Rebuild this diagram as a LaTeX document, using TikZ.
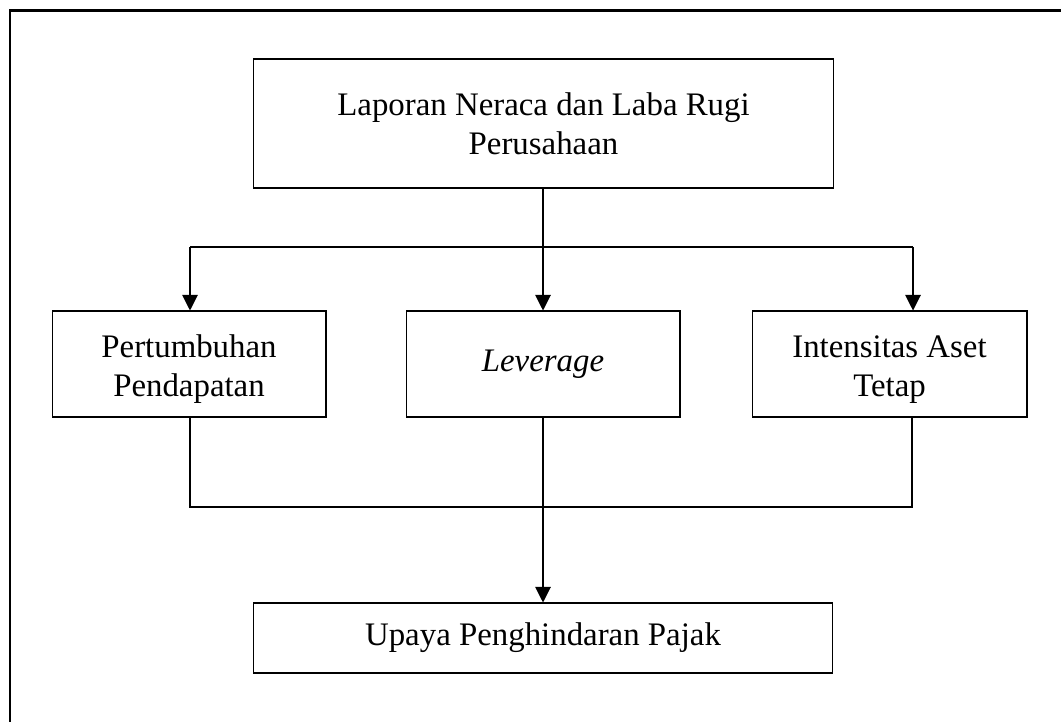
\documentclass[tikz,border=0pt]{standalone}
\usepackage{fontspec}
\setmainfont{Liberation Serif}
\usetikzlibrary{arrows.meta}

\tikzset{
  kotak/.style={draw, line width=0.6pt, align=center, inner sep=0pt,
    font=\fontsize{18.7}{22.1}\selectfont},
  panah/.style={line width=0.6pt, -{Triangle[length=0.31cm,width=0.31cm]}},
  garis/.style={line width=0.6pt}
}
\newcommand{\turun}{\rule{0pt}{19pt}}

\begin{document}
\begin{tikzpicture}[x=0.02cm,y=-0.02cm]
\useasboundingbox (0,0) rectangle (1061,722);
\draw[line width=1.7pt] (10,722) -- (10,11) -- (1061,11); % frame
% boxes
\node[kotak, minimum width=11.62cm, minimum height=2.58cm] (laporan) at (543.5,123.5) {Laporan Neraca dan Laba Rugi\\Perusahaan};
\node[kotak, minimum width=5.48cm, minimum height=2.12cm] (tumbuh) at (189,364) {\turun Pertumbuhan\\Pendapatan};
\node[kotak, minimum width=5.48cm, minimum height=2.12cm] (leverage) at (543,364) {\textit{Leverage}};
\node[kotak, minimum width=5.5cm, minimum height=2.12cm] (aset) at (889.5,364) {\turun Intensitas Aset\\Tetap};
\node[kotak, minimum width=11.6cm, minimum height=1.4cm] (pajak) at (543,638) {Upaya Penghindaran Pajak};
% branch points
\coordinate (atasL) at (190,247);
\coordinate (atasR) at (913,247);
\coordinate (bawahL) at (190,507);
\coordinate (bawahR) at (912,507);
\draw[garis] (laporan.south -| leverage) -- (leverage.north |- atasL);
\draw[garis] (atasL) -- (atasR);
\draw[panah] (atasL) -- (atasL |- tumbuh.north);
\draw[panah] (leverage.north |- atasL) -- (leverage.north);
\draw[panah] (atasR) -- (atasR |- aset.north);
\draw[garis] (bawahL |- tumbuh.south) -- (bawahL) -- (bawahR) -- (bawahR |- aset.south);
\draw[panah] (leverage.south) -- (pajak.north);
\end{tikzpicture}
\end{document}
